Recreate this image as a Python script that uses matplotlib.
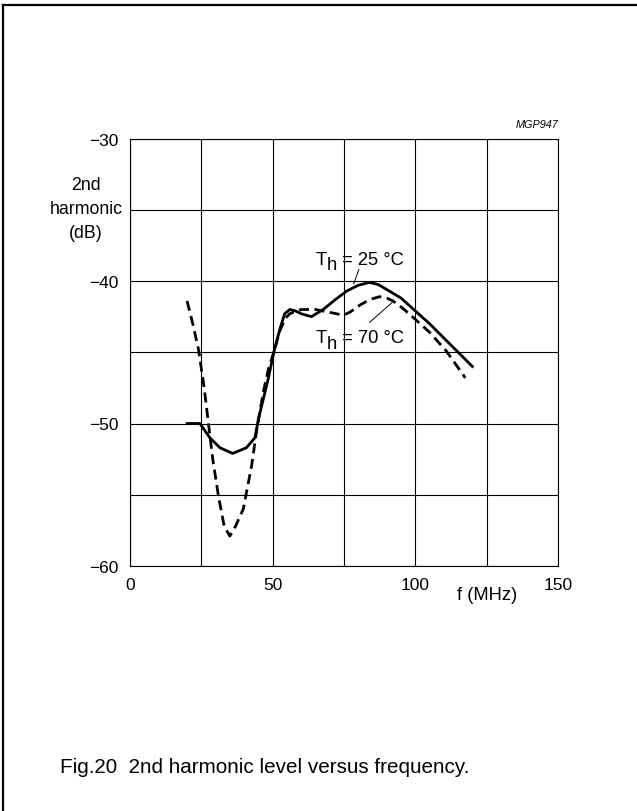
"""2nd harmonic level versus frequency (Fig.20)."""

import matplotlib
matplotlib.use("Agg")
import matplotlib.pyplot as plt
from matplotlib.lines import Line2D

plt.rcParams['font.family'] = ['Liberation Sans', 'DejaVu Sans']
plt.rcParams['mathtext.default'] = 'regular'

# Th = 25 degC (solid)
f_25 = [20, 24.5, 28, 31.5, 36, 40.8, 43.8, 45, 46.7, 48.4, 50.4, 52.5, 54.2, 56,
        58, 60, 63.6, 67.7, 72, 76, 80, 84, 87, 90, 95, 100, 105, 110, 115, 120]
h2_25 = [-50.0, -50.0, -51.0, -51.7, -52.1, -51.7, -51.0, -49.7, -48.3, -46.9, -45.0, -43.4, -42.3, -42.0,
         -42.1, -42.3, -42.5, -42.0, -41.3, -40.7, -40.3, -40.1, -40.25, -40.6, -41.2, -42.1, -43.0, -44.0, -45.0, -46.0]

# Th = 70 degC (dashed)
f_70 = [20, 22, 24, 26, 27.5, 29, 31, 33, 35, 37, 39.7, 42.6, 44.3, 46.7, 48.5, 50.4, 52.5, 54.5,
        56, 57.2, 60, 65, 70, 74.7, 77, 80.5, 84, 87.5, 90, 92.2, 95.5, 99.2, 105, 110.8, 114, 117.5]
h2_70 = [-41.4, -43.0, -44.8, -47.5, -50.0, -52.5, -55.1, -57.2, -57.9, -57.2, -56.0, -53.0, -50.6, -47.8, -46.2, -45.0, -43.5, -42.6,
         -42.3, -42.2, -42.0, -42.0, -42.2, -42.4, -42.2, -41.7, -41.3, -41.1, -41.2, -41.4, -41.9, -42.55, -43.6, -44.9, -45.8, -46.8]

x_labels = [0, 50, 100, 150]
y_labels = [-30, -40, -50, -60]

fig = plt.figure(figsize=(6.37, 8.12), dpi=100)
ax = fig.add_axes([130 / 637, 1 - 567 / 812, 428 / 637, 427.5 / 812])

ax.set_xlim(0, 150)
ax.set_ylim(-60, -30)
ax.set_xticks(range(0, 151, 25))
ax.set_yticks(range(-60, -29, 5))
ax.set_xticklabels([str(v) if v in x_labels else '' for v in range(0, 151, 25)])
ax.set_yticklabels(['\u2212' + str(-v) if v in y_labels else '' for v in range(-60, -29, 5)])
ax.tick_params(length=0, labelsize=12.5, pad=8)
ax.grid(True, color='black', linewidth=0.8)
for s in ax.spines.values():
    s.set_linewidth(0.8)

ax.plot(f_25, h2_25, color='black', linewidth=2.0, solid_joinstyle='round', clip_on=False)
ax.plot(f_70, h2_70, color='black', linewidth=2.0, dashes=(3.6, 2.0), clip_on=False)

# curve labels: T with a full-size, lowered "h" subscript
fs = 13.2
for x0, y0, rest in [(65.1, -38.8, ' = 25 \u00b0C'), (65.1, -44.3, ' = 70 \u00b0C')]:
    ax.annotate('T', (x0, y0), fontsize=fs, ha='left', va='baseline')
    ax.annotate('h', (x0, y0), xytext=(0.611 * fs, -4), textcoords='offset points',
                fontsize=fs, ha='left', va='baseline')
    ax.annotate(rest, (x0, y0), xytext=(1.167 * fs, 0), textcoords='offset points',
                fontsize=fs, ha='left', va='baseline')
ax.plot([80.2, 78.4], [-39.2, -40.2], color='black', linewidth=0.7)
ax.plot([84, 91.9], [-42.9, -41.5], color='black', linewidth=0.7)

ax.text(-15.5, -34.9, '2nd\nharmonic\n(dB)', fontsize=12.8, ha='center', va='center',
        linespacing=1.55)
ax.text(125, -62.0, 'f (MHz)', fontsize=13.2, ha='center', va='center')
ax.text(150, -29.3, 'MGP947', fontsize=7.8, style='italic', ha='right', va='bottom')

fig.text(265 / 637, 1 - 768 / 812, 'Fig.20  2nd harmonic level versus frequency.',
         fontsize=14.9, ha='center', va='center')

# frame (top and left edges)
fig.add_artist(Line2D([2.5 / 637, 1], [1 - 5.5 / 812] * 2, color='black', linewidth=1.6,
                      transform=fig.transFigure))
fig.add_artist(Line2D([2.5 / 637] * 2, [0, 1 - 5.5 / 812], color='black', linewidth=1.6,
                      transform=fig.transFigure))

fig.savefig('out.png', dpi=100)
